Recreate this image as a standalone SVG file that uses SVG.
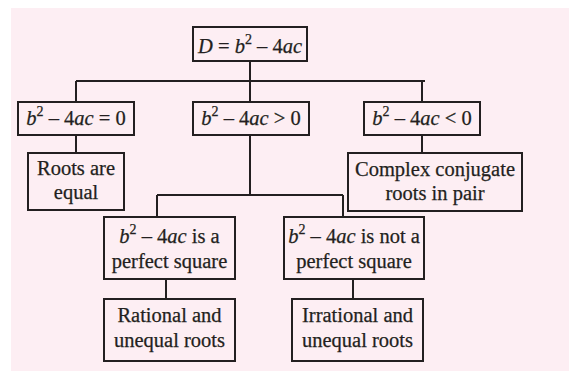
<svg xmlns="http://www.w3.org/2000/svg" width="569" height="372" viewBox="0 0 569 372">
<style>
.box{fill:none;stroke:#231f20;stroke-width:2}
.ln{fill:none;stroke:#231f20;stroke-width:2}
text{font-family:"Liberation Serif","Times New Roman",serif;font-size:20.5px;fill:#231f20;text-anchor:middle;stroke:#231f20;stroke-width:0.25}
.i{font-style:italic}
.s{font-size:14px}
</style>
<rect x="11" y="8" width="558" height="363" fill="#fdeef3"/>
<g id="connectors">
<path class="ln" d="M250 61V81M76 81H425M76 81V102M250 81V102M422 81V102"/>
<path class="ln" d="M76 135V153M422 135V153"/>
<path class="ln" d="M250 135V195M157 195H343M157 195V217M343 195V217"/>
<path class="ln" d="M166 279V299M353 279V299"/>
</g>
<g id="root">
<rect class="box" x="193" y="27" width="114" height="34"/>
<text x="250" y="53"><tspan class="i">D</tspan> = <tspan class="i">b</tspan><tspan class="s" dy="-9">2</tspan><tspan dy="9"> – 4</tspan><tspan class="i">ac</tspan></text>
</g>
<g id="eq">
<rect class="box" x="18" y="102" width="116" height="33"/>
<text x="76" y="125"><tspan class="i">b</tspan><tspan class="s" dy="-9">2</tspan><tspan dy="9"> – 4</tspan><tspan class="i">ac</tspan> = 0</text>
</g>
<g id="gt">
<rect class="box" x="193" y="102" width="116" height="33"/>
<text x="251" y="125"><tspan class="i">b</tspan><tspan class="s" dy="-9">2</tspan><tspan dy="9"> – 4</tspan><tspan class="i">ac</tspan> &gt; 0</text>
</g>
<g id="lt">
<rect class="box" x="364" y="102" width="116" height="33"/>
<text x="422" y="125"><tspan class="i">b</tspan><tspan class="s" dy="-9">2</tspan><tspan dy="9"> – 4</tspan><tspan class="i">ac</tspan> &lt; 0</text>
</g>
<g id="equal">
<rect class="box" x="28" y="153" width="96" height="57"/>
<text x="76" y="175">Roots are</text>
<text x="76" y="199">equal</text>
</g>
<g id="complex">
<rect class="box" x="348" y="153" width="174" height="58"/>
<text x="435" y="176">Complex conjugate</text>
<text x="435" y="200">roots in pair</text>
</g>
<g id="square">
<rect class="box" x="104" y="217" width="131" height="62"/>
<text x="169.5" y="243"><tspan class="i">b</tspan><tspan class="s" dy="-9">2</tspan><tspan dy="9"> – 4</tspan><tspan class="i">ac</tspan> is a</text>
<text x="169.5" y="268">perfect square</text>
</g>
<g id="notsquare">
<rect class="box" x="284" y="217" width="140" height="62"/>
<text x="354" y="243"><tspan class="i">b</tspan><tspan class="s" dy="-9">2</tspan><tspan dy="9"> – 4</tspan><tspan class="i">ac</tspan> is not a</text>
<text x="354" y="268">perfect square</text>
</g>
<g id="rational">
<rect class="box" x="104" y="299" width="131" height="62"/>
<text x="169.5" y="322">Rational and</text>
<text x="169.5" y="347">unequal roots</text>
</g>
<g id="irrational">
<rect class="box" x="292" y="299" width="131" height="62"/>
<text x="357.5" y="322">Irrational and</text>
<text x="357.5" y="347">unequal roots</text>
</g>
</svg>
